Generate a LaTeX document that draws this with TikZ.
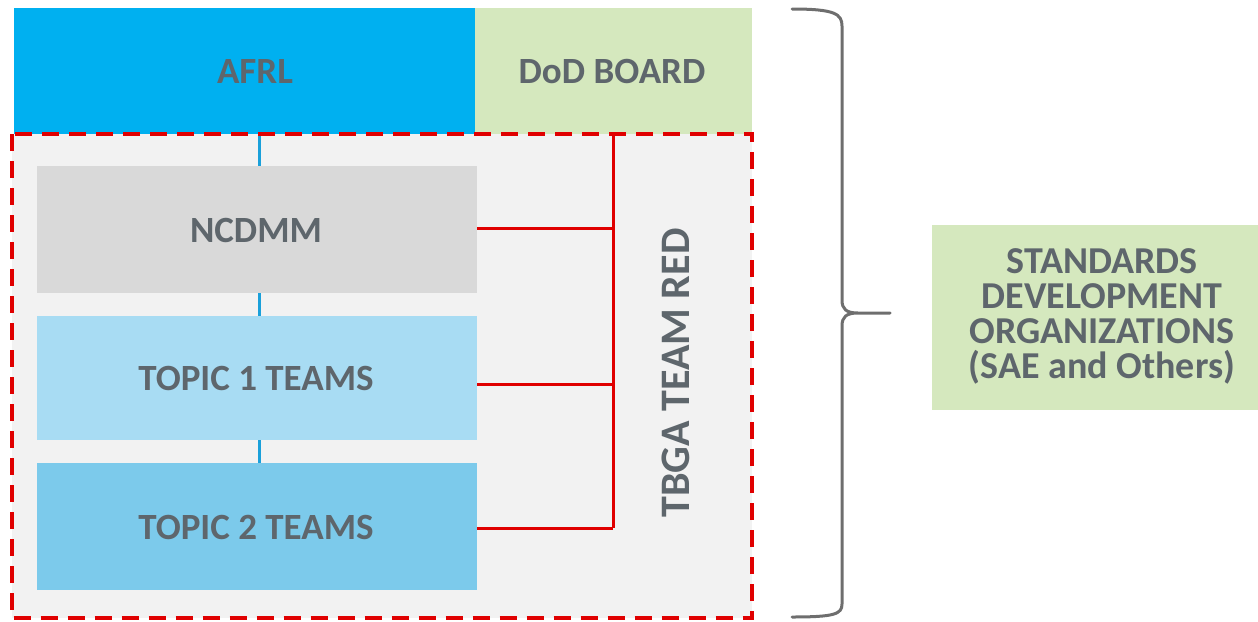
\documentclass[tikz,border=0pt]{standalone}
\usepackage{fontspec}
\setmainfont{Carlito}
\definecolor{afrl}{HTML}{00B0F0}
\definecolor{dodg}{HTML}{D5E8BE}
\definecolor{ncd}{HTML}{D9D9D9}
\definecolor{topa}{HTML}{A8DCF3}
\definecolor{topb}{HTML}{7CCAEB}
\definecolor{bggray}{HTML}{F2F2F2}
\definecolor{txt}{HTML}{5E666C}
\definecolor{redl}{HTML}{E00000}
\definecolor{bluel}{HTML}{1AA0DA}
\definecolor{bracec}{HTML}{6E6E6E}
\tikzset{
  box/.style={anchor=north west, inner sep=0pt, outer sep=0pt},
  lbl/.style={text=txt, font=\fontsize{37}{40}\selectfont\bfseries, inner sep=0pt},
  blueln/.style={draw=bluel, line width=3pt},
  redln/.style={draw=redl, line width=3pt},
}
\begin{document}
\begin{tikzpicture}[x=1pt,y=-1pt]
\useasboundingbox (0,0) rectangle (1258,621);
% top boxes
\node[box, fill=afrl, minimum width=461pt, minimum height=126pt] (afrl) at (14,8) {};
\node[lbl] (afrlt) at (255,72) {AFRL};
\node[box, fill=dodg, minimum width=277pt, minimum height=126pt] (dod) at (475,8) {};
\node[lbl] (dodt) at (612,72) {DoD BOARD};
% team region
\node[anchor=north west, inner sep=0pt, fill=bggray, minimum width=740pt, minimum height=484pt] (region) at (12,134) {};
% inner boxes
\node[box, fill=ncd, minimum width=440pt, minimum height=127pt] (ncdmm) at (37,166) {};
\node[lbl] (ncdmmt) at (256,230) {NCDMM};
\node[box, fill=topa, minimum width=440pt, minimum height=124pt] (t1) at (37,316) {};
\node[lbl] (t1t) at (256,378) {TOPIC 1 TEAMS};
\node[box, fill=topb, minimum width=440pt, minimum height=127pt] (t2) at (37,463) {};
\node[lbl] (t2t) at (256,527) {TOPIC 2 TEAMS};
% blue connectors
\draw[blueln] (afrl.south -| 259,0) -- (ncdmm.north -| 259,0);
\draw[blueln] (ncdmm.south -| 259,0) -- (t1.north -| 259,0);
\draw[blueln] (t1.south -| 259,0) -- (t2.north -| 259,0);
% red TBGA bus
\coordinate (bustop) at (613,134);
\coordinate (b1) at (613,228);
\coordinate (b2) at (613,384);
\coordinate (b3) at (613,528);
\draw[redln] (bustop) -- (b3);
\draw[redln] (ncdmm.east |- b1) -- (b1);
\draw[redln] (t1.east |- b2) -- (b2);
\draw[redln] (t2.east |- b3) -- (b3);
\node[lbl, font=\fontsize{42}{44}\selectfont\bfseries, rotate=90] (tbga) at (676,373) {TBGA TEAM RED};
% dashed border
\draw[redl, line width=4pt, dash pattern=on 17pt off 10pt] (region.north west) rectangle (region.south east);
% brace
\draw[bracec, line width=3pt, line cap=round]
  (792,9) .. controls (835,9) and (842,14) .. (842,26) -- (842,300)
  .. controls (842,309) and (846,313) .. (858,313) -- (890,313)
  (858,313) .. controls (846,313) and (842,317) .. (842,326) -- (842,604)
  .. controls (842,614) and (835,617) .. (792,617);
% SDO box
\node[box, fill=dodg, minimum width=326pt, minimum height=185pt] (sdo) at (932,225) {};
\node[lbl, font=\fontsize{38}{35}\selectfont\bfseries, align=center] (sdot) at (1102,316)
  {STANDARDS\\DEVELOPMENT\\ORGANIZATIONS\\(SAE and Others)};
\end{tikzpicture}
\end{document}
